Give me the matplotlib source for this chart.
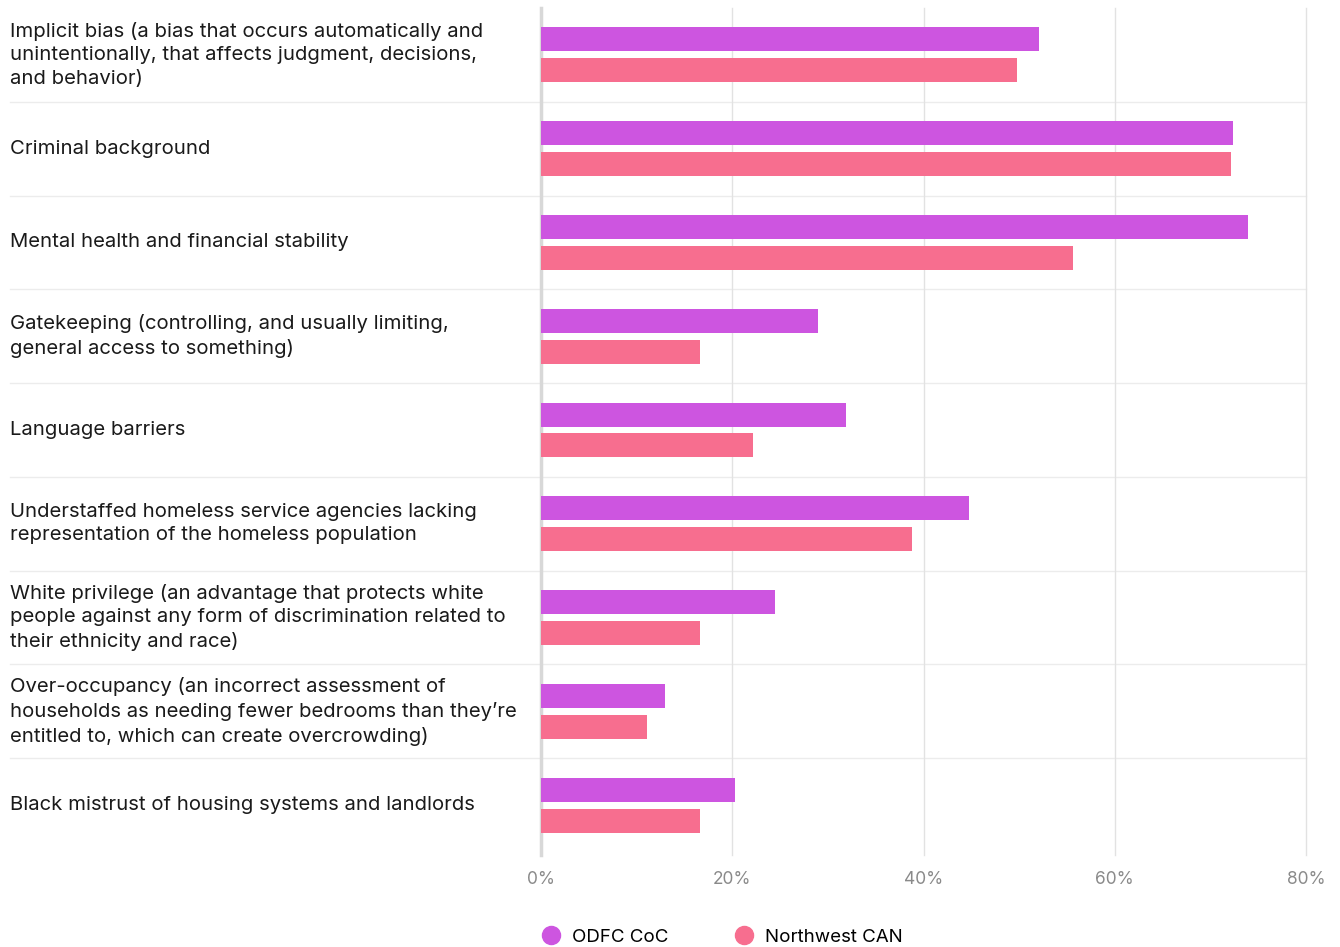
import matplotlib.pyplot as plt
from matplotlib.lines import Line2D
from matplotlib.transforms import blended_transform_factory

categories = [
    "Implicit bias (a bias that occurs automatically and\nunintentionally, that affects judgment, decisions,\nand behavior)",
    "Criminal background",
    "Mental health and financial stability",
    "Gatekeeping (controlling, and usually limiting,\ngeneral access to something)",
    "Language barriers",
    "Understaffed homeless service agencies lacking\nrepresentation of the homeless population",
    "White privilege (an advantage that protects white\npeople against any form of discrimination related to\ntheir ethnicity and race)",
    "Over-occupancy (an incorrect assessment of\nhouseholds as needing fewer bedrooms than they\u2019re\nentitled to, which can create overcrowding)",
    "Black mistrust of housing systems and landlords",
]
odfc_coc = [52.1, 72.4, 73.9, 29.0, 31.9, 44.8, 24.5, 13.0, 20.3]
northwest_can = [49.8, 72.2, 55.6, 16.6, 22.2, 38.8, 16.6, 11.1, 16.6]
series_names = ["ODFC CoC", "Northwest CAN"]
ticks = [0, 20, 40, 60, 80]

purple = "#CD55E0"
pink = "#F76E8F"

plt.rcParams["font.family"] = ["Inter", "DejaVu Sans"]

fig = plt.figure(figsize=(13.4, 9.47), dpi=100)
W, H = 1340, 947
ax = fig.add_axes([541 / W, 1 - 852 / H, (1306 - 541) / W, (852 - 8) / H])

n = len(categories)
rows = list(range(n))
bar_h = 24 / 93.8
for i in rows:
    ax.barh(i - 0.165, odfc_coc[i], height=bar_h, color=purple, zorder=3)
    ax.barh(i + 0.165, northwest_can[i], height=bar_h, color=pink, zorder=3)

ax.set_ylim(n - 0.5, -0.5)
ax.set_xlim(0, 80)
ax.set_xticks(ticks)
ax.set_xticklabels([f"{t}%" for t in ticks], color="#8a8a8a", fontsize=12.5)
ax.tick_params(axis="x", length=0, pad=14)
ax.set_yticks([])
for s in ax.spines.values():
    s.set_visible(False)
for t in ticks:
    ax.axvline(t, color="#e2e2e2" if t else "#d8d8d8", lw=1 if t else 2.5, zorder=1,
               ymin=-0.004, clip_on=False)

left = (10 - 541) / (1306 - 541)
for i in rows[:-1]:
    ax.axhline(i + 0.5, xmin=left, xmax=1, color="#ececec", lw=1, clip_on=False, zorder=0)

label_tf = blended_transform_factory(fig.transFigure, ax.transData)
for i, label in enumerate(categories):
    ax.text(10 / W, i, label, transform=label_tf, fontsize=14.6, color="#1a1a1a",
            ha="left", va="center", linespacing=1.38)

handles = [Line2D([], [], marker="o", ls="", markersize=13, color=c) for c in (purple, pink)]
fig.legend(handles, series_names, loc="center left", bbox_to_anchor=(532 / W, 1 - 937 / H),
           ncol=2, frameon=False, fontsize=13.5, handletextpad=0.15, columnspacing=3.0,
           borderaxespad=0, borderpad=0)

fig.savefig("out.png", dpi=100, facecolor="white")
